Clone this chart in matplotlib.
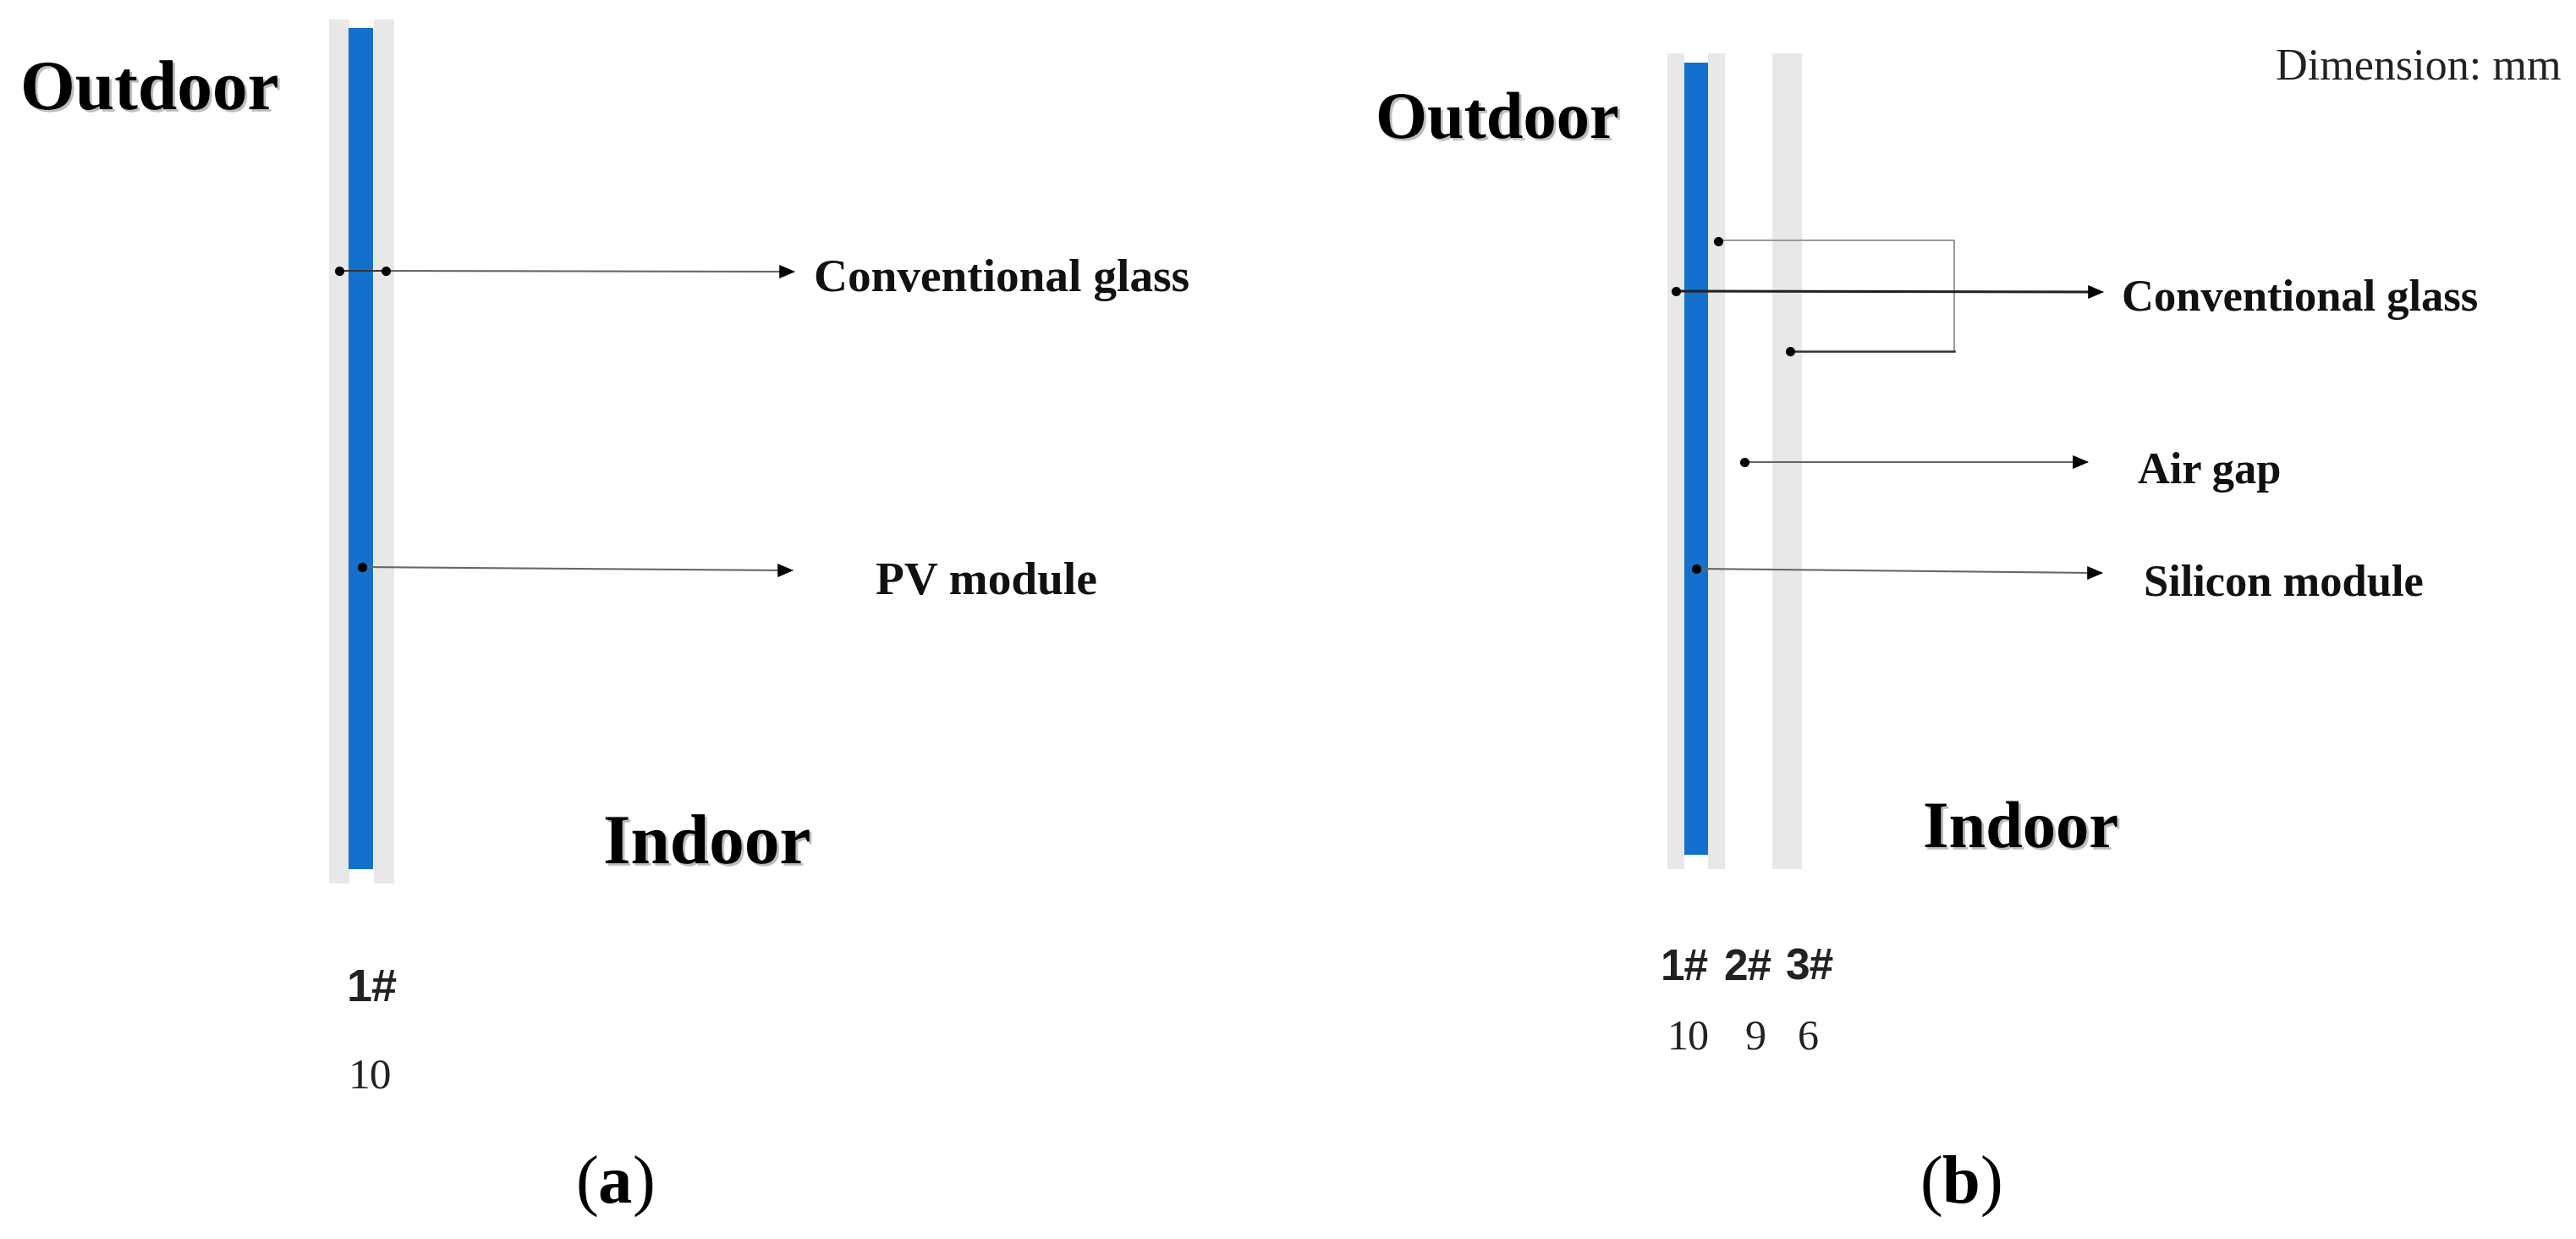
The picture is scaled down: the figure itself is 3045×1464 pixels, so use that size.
# coding: utf-8
import matplotlib
matplotlib.use('Agg')
import matplotlib.pyplot as plt
import matplotlib.patheffects as pe

plt.rcParams['font.family'] = ['Liberation Serif', 'DejaVu Serif']
plt.rcParams['mathtext.fontset'] = 'custom'
plt.rcParams['mathtext.rm'] = 'Liberation Serif'
plt.rcParams['mathtext.bf'] = 'Liberation Serif:bold'

# layer names and thickness (mm)
layers_a = ['1#']
thick_a = ['10']
layers_b = ['1#', '2#', '3#']
thick_b = ['10', '9', '6']
labels_a = ['Conventional glass', 'PV module']
labels_b = ['Conventional glass', 'Air gap', 'Silicon module']

BLUE = '#1470cc'
GRAY = '#e8e8e8'

fig = plt.figure(figsize=(30.45, 14.64), dpi=100)
ax = fig.add_axes([0, 0, 1, 1])
ax.set_xlim(0, 3045)
ax.set_ylim(1464, 0)
ax.axis('off')


def rect(x0, x1, y0, y1, color):
    ax.fill_between([x0, x1], y0, y1, color=color, lw=0)


def dot(x, y):
    ax.plot([x], [y], 'o', color='black', ms=8, mew=0, zorder=6)


def arrow(x0, y0, x1, y1, color='#666666', lw=1.5):
    ax.plot([x0, x1 - 10], [y0, y1], color=color, lw=lw, zorder=5)
    # small black head, the shaft is lighter
    ax.annotate('', xy=(x1, y1), xytext=(x1 - 6, y1), zorder=6,
                arrowprops=dict(arrowstyle='-|>,head_length=0.7,head_width=0.3',
                                color='black', lw=0.5, mutation_scale=18,
                                shrinkA=0, shrinkB=0))
    dot(x0, y0)


def big(x, y, s, size):
    t = ax.text(x, y, s, fontsize=size, fontweight='bold', ha='left', va='baseline')
    t.set_path_effects([pe.SimplePatchShadow(offset=(2, -2), alpha=0.35, shadow_rgbFace='#444444'),
                        pe.Normal()])


def label(x, y, s, size):
    ax.text(x, y, s, fontsize=size, fontweight='bold', color='#111111', ha='left', va='baseline')


def layer_tag(x, y, s, size):
    ax.text(x, y, s, fontsize=size, fontweight='bold', family='Liberation Sans',
            color='#222222', ha='left', va='baseline')


# panel (a)
rect(389, 413, 23, 1044, GRAY)
rect(442, 466, 23, 1044, GRAY)
rect(412, 441, 33, 1027, BLUE)

big(24, 129, 'Outdoor', 60)
big(713, 1020, 'Indoor', 60)
label(962, 344, labels_a[0], 39.8)
label(1035, 702, labels_a[1], 39.8)

ax.plot([401, 456], [320, 320], color='#333333', lw=1.4, zorder=5)
dot(401, 320)
arrow(456, 320, 940, 321)
arrow(428, 670, 938, 674)

layer_tag(410, 1183, layers_a[0], 39)
ax.text(411, 1285, thick_a[0], fontsize=37, color='#222222', ha='left', va='baseline')
ax.text(726, 1421, r'($\mathbf{a}$)', fontsize=58, ha='center', va='baseline')

# panel (b)
rect(1971, 1991, 63, 1027, GRAY)
rect(2019, 2039, 63, 1027, GRAY)
rect(2095, 2130, 63, 1027, GRAY)
rect(1991, 2019, 74, 1010, BLUE)

big(1626, 163, 'Outdoor', 56.5)
big(2273, 1001, 'Indoor', 56.5)
ax.text(2690, 93, 'Dimension: mm', fontsize=37.5, color='#222222', ha='left', va='baseline')
label(2508, 367, labels_b[0], 37.8)
label(2527, 571, labels_b[1], 37.8)
label(2534, 703, labels_b[2], 37.8)

# bracket joining the two inner glass faces
ax.plot([2031, 2310, 2310], [284, 284, 415], color='#999999', lw=1.4, zorder=5)
ax.plot([2116, 2310], [415, 415], color='#333333', lw=1.8, zorder=5)
dot(2031, 285)
dot(2116, 415)

arrow(1981, 344, 2487, 345, color='#222222', lw=2.2)
arrow(2062, 546, 2469, 546)
arrow(2005, 672, 2486, 677)

for x, s in zip([1963, 2037, 2111], layers_b):
    layer_tag(x, 1158, s, 37)
for x, s in zip([1971, 2062, 2125], thick_b):
    ax.text(x, 1240, s, fontsize=36, color='#222222', ha='left', va='baseline')
ax.text(2317, 1421, r'($\mathbf{b}$)', fontsize=58, ha='center', va='baseline')

fig.savefig('out.png', dpi=100, facecolor='white')
